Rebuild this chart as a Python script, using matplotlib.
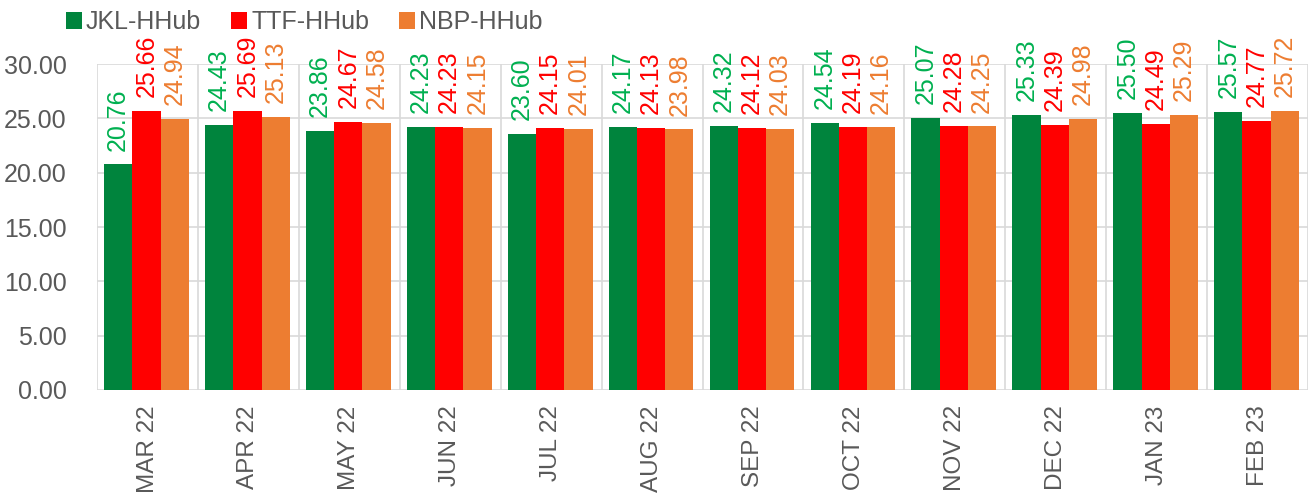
import matplotlib
matplotlib.use("Agg")
import matplotlib.pyplot as plt
from matplotlib.patches import Patch
import numpy as np

plt.rcParams['font.family'] = ['Liberation Sans', 'DejaVu Sans']

months = ["MAR 22", "APR 22", "MAY 22", "JUN 22", "JUL 22", "AUG 22",
          "SEP 22", "OCT 22", "NOV 22", "DEC 22", "JAN 23", "FEB 23"]
jkl = [20.76, 24.43, 23.86, 24.23, 23.60, 24.17, 24.32, 24.54, 25.07, 25.33, 25.50, 25.57]
ttf = [25.66, 25.69, 24.67, 24.23, 24.15, 24.13, 24.12, 24.19, 24.28, 24.39, 24.49, 24.77]
nbp = [24.94, 25.13, 24.58, 24.15, 24.01, 23.98, 24.03, 24.16, 24.25, 24.98, 25.29, 25.72]
series_names = ["JKL-HHub", "TTF-HHub", "NBP-HHub"]
yticks = [0, 5, 10, 15, 20, 25, 30]

bar_colors = ["#00843D", "#FF0000", "#ED7D31"]
label_colors = ["#00B050", "#FF0000", "#ED7D31"]
grid_c = "#D9D9D9"
txt_c = "#595959"

fig = plt.figure(figsize=(13.15, 4.97), dpi=100)
ax = fig.add_axes([0.0738, 0.2153, 0.9209, 0.6559])

x = np.arange(len(months))
w = 0.28
fs = 18
for i, (vals, bc, lc) in enumerate(zip([jkl, ttf, nbp], bar_colors, label_colors)):
    pos = x + (i - 1) * w - 0.01
    ax.bar(pos, vals, width=w, color=bc, zorder=3, linewidth=0)
    for p, v in zip(pos, vals):
        ax.annotate(f"{v:.2f}", (p, v), xytext=(0, 10), textcoords="offset points",
                    rotation=90, ha="center", va="bottom", color=lc, fontsize=fs,
                    annotation_clip=False)

ax.set_xlim(-0.5, len(months) - 0.5)
ax.set_ylim(0, 30)
ax.set_yticks(yticks)
ax.set_yticklabels([f"{t:.2f}" for t in yticks])
ax.set_xticks(x)
ax.set_xticklabels(months, rotation=90)
ax.tick_params(axis='y', length=0, labelsize=fs, colors=txt_c, pad=22)
ax.tick_params(axis='x', length=0, labelsize=17.5, colors=txt_c, pad=11)

for yv in yticks:
    ax.axhline(yv, color=grid_c, lw=1.2, zorder=1)
for b in np.arange(-0.5, len(months), 1.0):
    ax.axvline(b, color=grid_c, lw=1.2, zorder=1)
for s in ax.spines.values():
    s.set_visible(False)

handles = [Patch(facecolor=c, edgecolor='none') for c in bar_colors]
fig.legend(handles, series_names, loc="upper left", bbox_to_anchor=(0.033, 1.025),
           ncol=3, frameon=False, fontsize=fs, handlelength=0.65, handleheight=0.65,
           handletextpad=0.15, columnspacing=1.2, labelcolor=txt_c)

fig.savefig("out.png", dpi=100)
